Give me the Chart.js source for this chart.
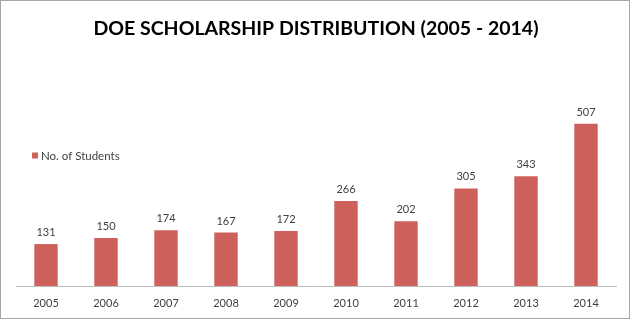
<!DOCTYPE html>
<html><head><meta charset="utf-8">
<script src="https://cdn.jsdelivr.net/npm/chart.js@4"></script>
<style>
html,body{margin:0;padding:0;background:#fff;}
#wrap{position:relative;width:632px;height:320px;}
#frame{position:absolute;left:0;top:0;width:628px;height:317px;border:1px solid #a6a6a6;pointer-events:none;}
canvas{position:absolute;left:0;top:0;}
</style></head><body>
<div id="wrap"><canvas id="c" width="632" height="320"></canvas><div id="frame"></div></div>
<script>
const chartTitle = 'DOE SCHOLARSHIP DISTRIBUTION (2005 - 2014)';
const seriesName = 'No. of Students';
const categories = ['2005','2006','2007','2008','2009','2010','2011','2012','2013','2014'];
const students = [131,150,174,167,172,266,202,305,343,507];

const barColor = 'rgb(206,96,92)';
const textColor = '#404040';
const fontFamily = 'Lato, "Open Sans", sans-serif';

const valueLabels = {
  id: 'valueLabels',
  afterDatasetsDraw(chart) {
    const ctx = chart.ctx;
    const meta = chart.getDatasetMeta(0);
    const data = chart.data.datasets[0].data;
    ctx.save();
    ctx.font = '11px ' + fontFamily;
    ctx.fillStyle = textColor;
    ctx.textAlign = 'center';
    ctx.textBaseline = 'alphabetic';
    meta.data.forEach((el, i) => {
      ctx.fillText(String(data[i]), el.x, el.y - 8);
    });
    ctx.restore();
  }
};

const customLegend = {
  id: 'customLegend',
  afterDraw(chart) {
    const ctx = chart.ctx;
    const ds = chart.data.datasets[0];
    ctx.save();
    ctx.fillStyle = ds.backgroundColor;
    ctx.fillRect(32, 152.5, 6, 6);
    ctx.font = '11.5px ' + fontFamily;
    ctx.fillStyle = textColor;
    ctx.textAlign = 'left';
    ctx.textBaseline = 'alphabetic';
    ctx.fillText(ds.label, 41, 160);
    ctx.restore();
  }
};

new Chart(document.getElementById('c'), {
  type: 'bar',
  data: {
    labels: categories,
    datasets: [{
      label: seriesName,
      data: students,
      backgroundColor: barColor,
      borderWidth: 0,
      barPercentage: 0.39,
      categoryPercentage: 1
    }]
  },
  options: {
    responsive: false,
    animation: false,
    devicePixelRatio: 1,
    layout: { padding: { left: 16, right: 16, top: 0, bottom: 0 } },
    plugins: {
      legend: { display: false },
      tooltip: { enabled: false },
      title: {
        display: true,
        text: chartTitle,
        color: '#000',
        font: { family: fontFamily, size: 19.5, weight: 'bold', lineHeight: 1.2 },
        padding: { top: 17.3, bottom: 53.3 }
      }
    },
    scales: {
      x: {
        grid: { display: false, drawTicks: false },
        border: { display: true, color: '#bfbfbf', width: 1 },
        ticks: { color: textColor, font: { family: fontFamily, size: 11 }, padding: 11 },
        afterFit(s) { s.height = 34; }
      },
      y: { display: false, min: 0, max: 600 }
    }
  },
  plugins: [valueLabels, customLegend]
});
</script>
</body></html>
